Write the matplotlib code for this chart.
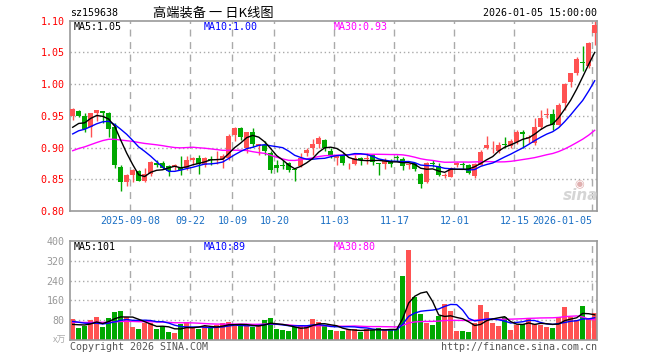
import matplotlib
matplotlib.use('Agg')
import matplotlib.pyplot as plt
import numpy as np

# ---------------- data ----------------
opens = [0.950, 0.957, 0.949, 0.933, 0.954, 0.957, 0.954, 0.932, 0.870, 0.846,
         0.856, 0.863, 0.847, 0.859, 0.876, 0.875, 0.871, 0.869, 0.867, 0.867,
         0.881, 0.884, 0.873, 0.882, 0.881, 0.882, 0.883, 0.920, 0.931, 0.899,
         0.924, 0.903, 0.904, 0.891, 0.873, 0.873, 0.875, 0.866, 0.871, 0.892,
         0.899, 0.905, 0.912, 0.895, 0.883, 0.888, 0.872, 0.874, 0.884, 0.882,
         0.888, 0.875, 0.874, 0.879, 0.885, 0.882, 0.873, 0.875, 0.859, 0.846,
         0.876, 0.871, 0.855, 0.854, 0.873, 0.874, 0.872, 0.855, 0.873, 0.899,
         0.897, 0.894, 0.906, 0.903, 0.908, 0.924, 0.915, 0.907, 0.933, 0.952,
         0.953, 0.936, 0.970, 1.003, 1.017, 1.034, 1.028, 1.080]
highs = [0.963, 0.959, 0.955, 0.955, 0.960, 0.958, 0.956, 0.938, 0.872, 0.858,
         0.866, 0.864, 0.868, 0.879, 0.881, 0.879, 0.872, 0.874, 0.886, 0.887,
         0.885, 0.889, 0.885, 0.887, 0.895, 0.890, 0.921, 0.932, 0.932, 0.925,
         0.931, 0.906, 0.911, 0.894, 0.881, 0.880, 0.878, 0.866, 0.891, 0.899,
         0.913, 0.918, 0.914, 0.899, 0.888, 0.891, 0.876, 0.888, 0.885, 0.892,
         0.890, 0.876, 0.884, 0.882, 0.889, 0.885, 0.876, 0.876, 0.860, 0.877,
         0.881, 0.875, 0.860, 0.870, 0.878, 0.878, 0.874, 0.875, 0.896, 0.919,
         0.911, 0.908, 0.917, 0.914, 0.928, 0.928, 0.920, 0.946, 0.959, 0.962,
         0.961, 0.970, 1.001, 1.018, 1.042, 1.060, 1.066, 1.100]
lows = [0.943, 0.948, 0.925, 0.916, 0.942, 0.939, 0.916, 0.868, 0.832, 0.839,
        0.845, 0.847, 0.846, 0.855, 0.869, 0.866, 0.855, 0.864, 0.857, 0.865,
        0.872, 0.858, 0.870, 0.873, 0.874, 0.868, 0.880, 0.910, 0.912, 0.891,
        0.901, 0.888, 0.889, 0.860, 0.862, 0.866, 0.862, 0.847, 0.869, 0.887,
        0.888, 0.900, 0.895, 0.883, 0.873, 0.872, 0.866, 0.872, 0.872, 0.874,
        0.873, 0.857, 0.866, 0.869, 0.879, 0.865, 0.866, 0.863, 0.836, 0.844,
        0.869, 0.855, 0.852, 0.853, 0.869, 0.866, 0.858, 0.852, 0.872, 0.897,
        0.892, 0.891, 0.899, 0.900, 0.905, 0.899, 0.907, 0.904, 0.930, 0.946,
        0.928, 0.936, 0.959, 0.995, 1.015, 1.021, 1.026, 1.061]
closes = [0.961, 0.950, 0.929, 0.954, 0.959, 0.954, 0.929, 0.872, 0.845, 0.856,
          0.864, 0.848, 0.859, 0.878, 0.872, 0.868, 0.863, 0.872, 0.865, 0.880,
          0.884, 0.874, 0.884, 0.881, 0.882, 0.887, 0.919, 0.931, 0.917, 0.924,
          0.905, 0.905, 0.894, 0.864, 0.868, 0.871, 0.865, 0.865, 0.883, 0.896,
          0.905, 0.915, 0.899, 0.888, 0.886, 0.876, 0.873, 0.884, 0.881, 0.883,
          0.877, 0.874, 0.879, 0.874, 0.883, 0.871, 0.874, 0.866, 0.843, 0.875,
          0.874, 0.857, 0.856, 0.867, 0.875, 0.873, 0.860, 0.874, 0.893, 0.904,
          0.898, 0.904, 0.904, 0.911, 0.925, 0.921, 0.916, 0.933, 0.947, 0.953,
          0.936, 0.967, 1.000, 1.018, 1.040, 1.033, 1.065, 1.094]
volumes = [85, 48, 57, 81, 93, 53, 89, 114, 117, 92,
           51, 44, 67, 67, 46, 54, 32, 27, 65, 73,
           51, 45, 55, 50, 62, 68, 72, 58, 55, 58,
           52, 60, 81, 89, 45, 40, 38, 52, 62, 55,
           85, 72, 55, 40, 36, 36, 44, 44, 32, 43,
           40, 50, 40, 40, 44, 260, 364, 175, 105, 70,
           61, 95, 145, 118, 36, 36, 33, 70, 140, 112,
           70, 57, 92, 40, 61, 63, 88, 63, 61, 54,
           50, 94, 132, 92, 81, 138, 88, 110]
# earlier sessions (off chart) that feed the moving averages at the left edge
prior_closes = [0.845, 0.850, 0.852, 0.858, 0.862, 0.867, 0.873,
                0.880, 0.888, 0.895, 0.900, 0.905, 0.910, 0.906, 0.908, 0.912, 0.911,
                0.880, 0.866, 0.868,
                0.900, 0.905, 0.912, 0.915, 0.923,
                0.920, 0.924, 0.919, 0.936]
prior_volumes = [68, 72, 75, 70, 66, 73, 78, 70, 65, 69, 74, 71, 68, 72, 70, 67, 73, 69, 71, 69,
                 80, 95, 90, 85, 85,
                 55, 62, 58, 55]

tick_index = [10, 20, 27, 34, 44, 54, 64, 74, 87]
tick_labels = ['2025-09-08', '09-22', '10-09', '10-20', '11-03', '11-17', '12-01', '12-15', '2026-01-05']
price_ticks = [0.80, 0.85, 0.90, 0.95, 1.00, 1.05, 1.10]
vol_ticks = [80, 160, 240, 320, 400]

# ---------------- styling ----------------
RED = '#ff5252'
GREEN = '#00a800'
GRID = '#aaaaaa'
FRAME = '#999999'
MONO = 'DejaVu Sans Mono'
CJK = ['Noto Sans CJK SC', 'DejaVu Sans']
W, H = 660, 360

def fx(px):
    return px / W

def fy(py):
    return 1 - py / H

fig = plt.figure(figsize=(6.6, 3.6), dpi=100)
ax = fig.add_axes([fx(70), fy(211), (597 - 70) / W, (211 - 20.7) / H])
axv = fig.add_axes([fx(70), fy(340), (597 - 70) / W, (340 - 241) / H])

n = len(closes)
x = np.arange(n)
xlim = (-0.45, -0.45 + 527 / 6.0)

def ma(series, prior, w):
    full = np.array(list(prior) + list(series), dtype=float)
    out = []
    for k in range(len(prior), len(full)):
        out.append(full[k - w + 1:k + 1].mean())
    return np.array(out)

o = np.array(opens); c = np.array(closes); h = np.array(highs); l = np.array(lows)
up = c >= o
cols = [RED if u else GREEN for u in up]

for a in (ax, axv):
    a.set_xlim(*xlim)
    for t in tick_index:
        a.axvline(t - 0.4, color=GRID, lw=1, dashes=(5, 4), zorder=0)
    for s in a.spines.values():
        s.set_color(FRAME)
        s.set_linewidth(1.2)
    a.set_xticks([])
    a.tick_params(axis='y', length=0, pad=4)

# price panel
ax.set_ylim(0.80, 1.10)
for p in price_ticks[1:-1]:
    ax.axhline(p, color=GRID, lw=1, dashes=(1, 2), zorder=0)
ax.vlines(x, l, h, colors=cols, lw=1, zorder=2)
body_lo = np.minimum(o, c)
body_h = np.maximum(np.abs(c - o), 0.0012)
ax.bar(x, body_h, bottom=body_lo, width=0.8, color=cols, zorder=3, linewidth=0, antialiased=False)
ax.plot(x, ma(closes, prior_closes, 30), color='#ff00ff', lw=1, zorder=4)
ax.plot(x, ma(closes, prior_closes, 10), color='#0000ff', lw=1, zorder=4)
ax.plot(x, ma(closes, prior_closes, 5), color='black', lw=1, zorder=4)
ax.set_yticks(price_ticks)
ax.set_yticklabels(['%.2f' % p for p in price_ticks], color='#ff0000', family=MONO, fontsize=7.2)

# volume panel
axv.set_ylim(0, 400)
for v in vol_ticks[:-1]:
    axv.axhline(v, color=GRID, lw=1, dashes=(1, 2), zorder=0)
axv.bar(x, volumes, width=0.8, color=cols, zorder=2, linewidth=0, antialiased=False)
axv.plot(x, ma(volumes, prior_volumes, 30), color='#ff00ff', lw=1, zorder=4)
axv.plot(x, ma(volumes, prior_volumes, 10), color='#0000ff', lw=1, zorder=4)
axv.plot(x, ma(volumes, prior_volumes, 5), color='black', lw=1, zorder=4)
axv.set_yticks(vol_ticks)
axv.set_yticklabels([str(v) for v in vol_ticks], color='#999999', family=MONO, fontsize=7.2)

# x labels
for t, lab in zip(tick_index, tick_labels):
    px = 72.7 + 6 * t - 2.4
    ha = 'right' if t == tick_index[-1] else 'center'
    fig.text(fx(px), fy(221.5), lab, ha=ha, va='center', color='#1a6fc4', family=MONO, fontsize=7.2)

# header
fig.text(fx(70), fy(13), 'sz159638', ha='left', va='center', family=MONO, fontsize=7.2, color='black')
fig.text(fx(213), fy(13), '高端装备 一 日K线图', ha='center', va='center', family=CJK, fontsize=9.5, color='black')
fig.text(fx(597), fy(13), '2026-01-05 15:00:00', ha='right', va='center', family=MONO, fontsize=7.2, color='black')

# MA legends
fig.text(fx(74), fy(26.5), 'MA5:1.05', ha='left', va='center', family=MONO, fontsize=7.2, color='black')
fig.text(fx(204), fy(26.5), 'MA10:1.00', ha='left', va='center', family=MONO, fontsize=7.2, color='#0000ff')
fig.text(fx(334), fy(26.5), 'MA30:0.93', ha='left', va='center', family=MONO, fontsize=7.2, color='#ff00ff')
fig.text(fx(74), fy(246.5), 'MA5:101', ha='left', va='center', family=MONO, fontsize=7.2, color='black')
fig.text(fx(204), fy(246.5), 'MA10:89', ha='left', va='center', family=MONO, fontsize=7.2, color='#0000ff')
fig.text(fx(334), fy(246.5), 'MA30:80', ha='left', va='center', family=MONO, fontsize=7.2, color='#ff00ff')

# footer
fig.text(fx(70), fy(347), 'Copyright 2026 SINA.COM', ha='left', va='center', family=MONO, fontsize=7.2, color='#555555')
fig.text(fx(597), fy(347), 'http://finance.sina.com.cn', ha='right', va='center', family=MONO, fontsize=7.2, color='#555555')
fig.text(fx(66), fy(340), 'x万', ha='right', va='center', family=CJK, fontsize=6.5, color='#aaaaaa')

# watermark
fig.text(fx(581), fy(196), 'sina', ha='center', va='center', family='DejaVu Sans', fontsize=11,
         style='italic', weight='bold', color='#d5d5d5')
fig.text(fx(579), fy(184), '◉', ha='center', va='center', family='DejaVu Sans', fontsize=8, color='#e0b0b0')

fig.savefig('out.png', dpi=100)
